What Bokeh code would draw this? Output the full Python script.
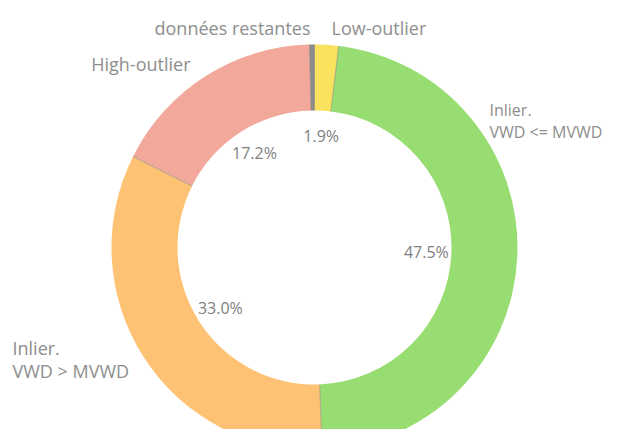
import math
from bokeh.plotting import figure
from bokeh.models import Range1d, ColumnDataSource
from bokeh.core.properties import value
from bokeh.embed import file_html
from bokeh.resources import INLINE

# ---- data ----
categories = ["Low-outlier", "Inlier. VWD <= MVWD", "Inlier. VWD > MVWD", "High-outlier", "données restantes"]
shares = [1.9, 47.5, 33.0, 17.2, 0.4]
pct_labels = ["1.9%", "47.5%", "33.0%", "17.2%", ""]
colors = ["#fbe25e", "#97dd72", "#fdc274", "#f2a99b", "#8c8c8c"]

# ---- layout (picture pixel coordinates; y measured downward) ----
W, H = 605, 429
CX, CY = 314, 247
R_OUT, R_IN = 203, 137
R_LBL = 112
FONT = "Open Sans"

p = figure(width=W, height=H, output_backend="svg", toolbar_location=None,
           x_range=Range1d(0, W), y_range=Range1d(-H, 0),
           min_border=0)
p.axis.visible = False
p.grid.visible = False
p.outline_line_color = None
p.background_fill_color = "white"

total = sum(shares)
starts, ends, mids = [], [], []
acc = 0.0
for s in shares:
    a0 = acc / total * 2 * math.pi
    acc += s
    a1 = acc / total * 2 * math.pi
    starts.append(math.pi / 2 - a1)
    ends.append(math.pi / 2 - a0)
    mids.append((a0 + a1) / 2)

src = ColumnDataSource(dict(x=[CX] * len(shares), y=[-CY] * len(shares),
                            start=starts, end=ends, color=colors))
p.annular_wedge(x="x", y="y", inner_radius=R_IN, outer_radius=R_OUT,
                start_angle="start", end_angle="end", fill_color="color",
                line_color=None, source=src)

# thin separators between slices
bx0, by0, bx1, by1 = [], [], [], []
acc = 0.0
for s in shares:
    a = acc / total * 2 * math.pi
    acc += s
    bx0.append(CX + R_IN * math.sin(a)); by0.append(-(CY - R_IN * math.cos(a)))
    bx1.append(CX + R_OUT * math.sin(a)); by1.append(-(CY - R_OUT * math.cos(a)))
p.segment(x0=bx0, y0=by0, x1=bx1, y1=by1, line_color="#8f8778", line_alpha=0.6, line_width=1)

# percentage labels inside the hole
lx = [CX + R_LBL * math.sin(m) for m in mids]
ly = [-(CY - R_LBL * math.cos(m)) for m in mids]
p.text(x=lx, y=ly, text=pct_labels, text_align="center", text_baseline="middle",
       text_font=value(FONT), text_font_size="16px", text_color="#808080")

# outer category labels
lab_x = [331, 190, 310, 12, 12]
lab_y = [27, 63, 27, 347, 370]
lab_t = ["Low-outlier", "High-outlier", "données restantes", "Inlier.", "VWD > MVWD"]
lab_a = ["left", "right", "right", "left", "left"]
p.text(x=lab_x, y=[-v for v in lab_y], text=lab_t, text_align=lab_a, text_baseline="middle",
       text_font=value(FONT), text_font_size="18px", text_color="#8e8e8e")

# right-hand label, slightly smaller so it fits inside the frame
p.text(x=[489, 489], y=[-109, -131], text=["Inlier.", "VWD <= MVWD"], text_align="left",
       text_baseline="middle", text_font=value(FONT), text_font_size="16px", text_color="#8e8e8e")

open("out.html", "w").write(file_html(p, INLINE))
